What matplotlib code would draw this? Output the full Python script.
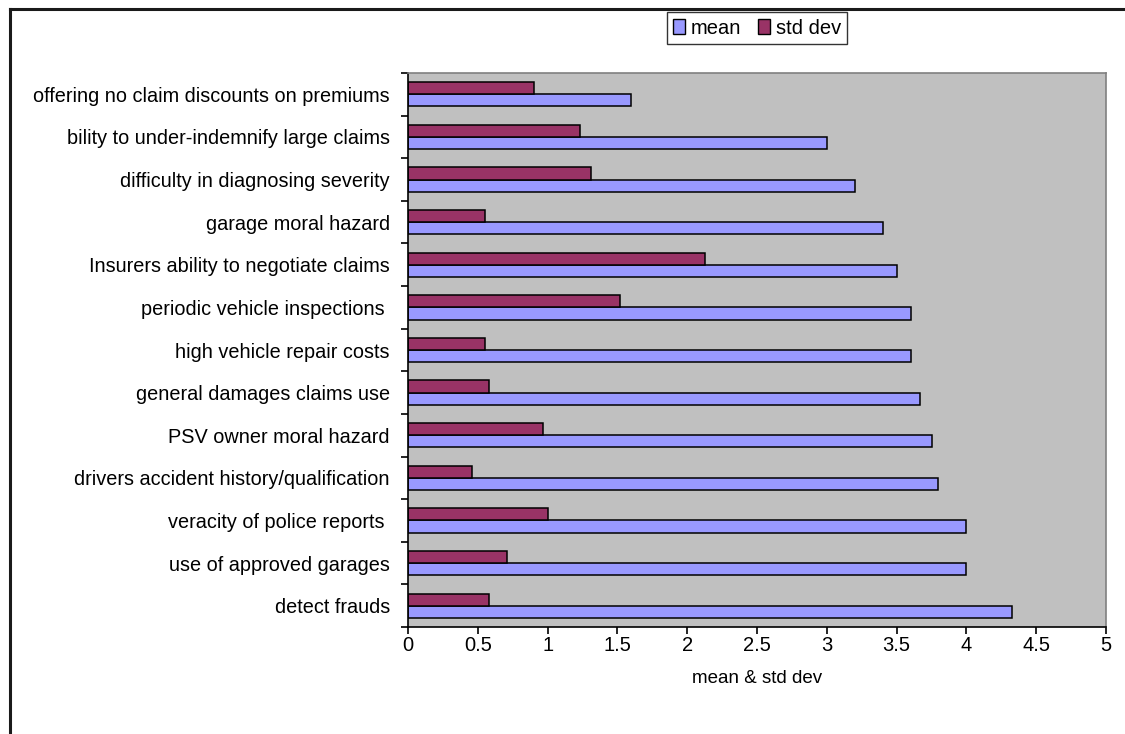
import numpy as np
import matplotlib.pyplot as plt
from matplotlib import font_manager
from matplotlib.lines import Line2D
from matplotlib.patches import Patch

names = {f.name for f in font_manager.fontManager.ttflist}
font = 'Liberation Sans Narrow' if 'Liberation Sans Narrow' in names else 'Liberation Sans'
plt.rcParams['font.family'] = [font, 'DejaVu Sans']

categories = [
    'detect frauds',
    'use of approved garages',
    'veracity of police reports ',
    'drivers accident history/qualification',
    'PSV owner moral hazard',
    'general damages claims use',
    'high vehicle repair costs',
    'periodic vehicle inspections ',
    'Insurers ability to negotiate claims',
    'garage moral hazard',
    'difficulty in diagnosing severity',
    'bility to under-indemnify large claims',
    'offering no claim discounts on premiums',
]
mean = [4.33, 4.0, 4.0, 3.8, 3.75, 3.67, 3.6, 3.6, 3.5, 3.4, 3.2, 3.0, 1.6]
std_dev = [0.58, 0.71, 1.0, 0.46, 0.97, 0.58, 0.55, 1.52, 2.13, 0.55, 1.31, 1.23, 0.9]
xticks = [0, 0.5, 1, 1.5, 2, 2.5, 3, 3.5, 4, 4.5, 5]

W, H = 1125, 734
fig = plt.figure(figsize=(W / 100, H / 100), dpi=100)
ax = fig.add_axes([408 / W, 1 - 627 / H, (1106 - 408) / W, (627 - 73) / H])
ax.set_facecolor('#C0C0C0')

y = np.arange(len(categories))
h = 1 / 3.5
ax.barh(y - h / 2, mean, height=h, color='#9999FF', edgecolor='black', linewidth=1.1, label='mean')
ax.barh(y + h / 2, std_dev, height=h, color='#993366', edgecolor='black', linewidth=1.1, label='std dev')

ax.set_xlim(0, 5)
ax.set_ylim(-0.5, len(categories) - 0.5)
ax.set_xticks(xticks)
ax.set_xticklabels([f'{t:g}' for t in xticks], fontsize=14.5)
ax.set_yticks(y)
ax.set_yticklabels(categories, fontsize=14.3)
ax.set_yticks(np.arange(len(categories) + 1) - 0.5, minor=True)
ax.tick_params(axis='y', which='major', length=0, pad=13)
ax.tick_params(axis='y', which='minor', length=5, width=1.2, direction='out')
ax.tick_params(axis='x', length=5, width=1.2, direction='out', pad=1.5)
ax.set_xlabel('mean & std dev', fontsize=13.5, labelpad=11)

for s in ['left', 'bottom']:
    ax.spines[s].set_color('black')
    ax.spines[s].set_linewidth(1.2)
for s in ['top', 'right']:
    ax.spines[s].set_color('#808080')
    ax.spines[s].set_linewidth(1.2)

handles = [Patch(facecolor='#9999FF', edgecolor='black', label='mean'),
           Patch(facecolor='#993366', edgecolor='black', label='std dev')]
leg = fig.legend(handles=handles, loc='center', bbox_to_anchor=(757 / W, 1 - 28 / H),
                 ncol=2, fontsize=14.5, frameon=True, fancybox=False, edgecolor='black',
                 handlelength=0.6, handleheight=0.8, handletextpad=0.3, columnspacing=0.8,
                 borderpad=0.3)
leg.get_frame().set_linewidth(1.0)

# outer chart frame (left and top edges)
fig.add_artist(Line2D([10 / W, 10 / W], [0, 1 - 9 / H], transform=fig.transFigure,
                      color='#1a1a1a', linewidth=2.2))
fig.add_artist(Line2D([10 / W, 1], [1 - 9 / H, 1 - 9 / H], transform=fig.transFigure,
                      color='#1a1a1a', linewidth=2.2))

fig.savefig('out.png', dpi=100)
